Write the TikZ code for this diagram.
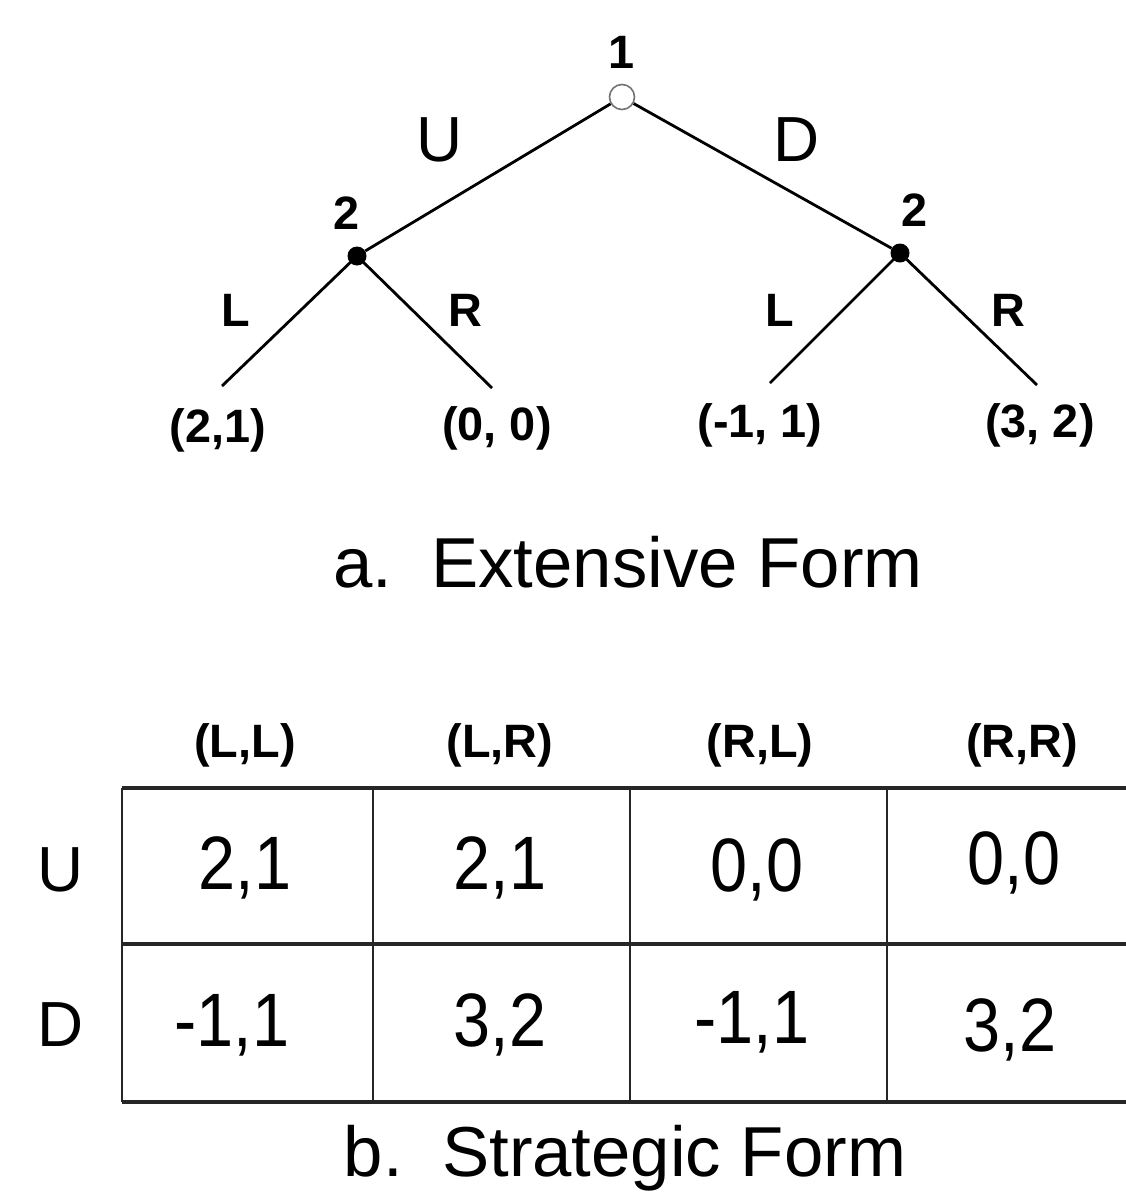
\documentclass[tikz,border=0pt]{standalone}
\usepackage{fontspec}
\setmainfont{Liberation Sans}
\begin{document}
\begin{tikzpicture}[x=1bp,y=-1bp,
  lbl/.style={font=\fontsize{47}{50}\selectfont\bfseries, inner sep=0pt},
  big/.style={font=\fontsize{64}{68}\selectfont, inner sep=0pt},
  cellv/.style={font=\fontsize{76}{80}\selectfont, inner sep=0pt, xscale=0.88},
  title/.style={font=\fontsize{71}{74}\selectfont, inner sep=0pt},
  branch/.style={line width=2.8bp},
  opennode/.style={circle, draw=black!55, fill=white, line width=1.6bp, minimum size=25bp, inner sep=0pt},
  dotnode/.style={circle, fill=black, minimum size=19bp, inner sep=0pt},
  hline/.style={line width=3.5bp, draw=black!85},
  vline/.style={line width=2.4bp, draw=black!85}]
\useasboundingbox (0,0) rectangle (1126,1196);
\fill[white] (0,0) rectangle (1126,1196);

% tree
\node[opennode] (root) at (622,97) {};
\node[dotnode] (dl) at (357,256) {};
\node[dotnode] (dr) at (900,253) {};
\coordinate (ll) at (222,386);
\coordinate (lr) at (492,388);
\coordinate (rl) at (770,383);
\coordinate (rr) at (1037,385);
\draw[branch] (root) -- (dl);
\draw[branch] (root) -- (dr);
\draw[branch] (dl.center) -- (ll);
\draw[branch] (dl.center) -- (lr);
\draw[branch] (dr.center) -- (rl);
\draw[branch] (dr.center) -- (rr);

\node[lbl] (p1) at (622,52) {1};
\node[lbl] (p2l) at (347,213) {2};
\node[lbl] (p2r) at (915,210) {2};
\node[big] (bU) at (440,140) {U};
\node[big] (bD) at (797,140) {D};
\node[lbl] (bLl) at (236,310) {L};
\node[lbl] (bRl) at (465,310) {R};
\node[lbl] (bLr) at (780,310) {L};
\node[lbl] (bRr) at (1008,310) {R};
\node[lbl] (o1) at (218,430) {(2,1)};
\node[lbl] (o2) at (497,428) {(0, 0)};
\node[lbl] (o3) at (760,425) {(-1, 1)};
\node[lbl] (o4) at (1040,425) {(3, 2)};
\node[title] (ta) at (628,562) {a.\ \ Extensive Form};

% table
\node[lbl] (c1) at (245,745) {(L,L)};
\node[lbl] (c2) at (500,745) {(L,R)};
\node[lbl] (c3) at (760,745) {(R,L)};
\node[lbl] (c4) at (1022,745) {(R,R)};
\node[big] (rU) at (61,870) {U};
\node[big] (rD) at (61,1025) {D};
\draw[hline] (122,788) -- (1126,788);
\draw[hline] (122,944) -- (1126,944);
\draw[hline] (122,1102) -- (1126,1102);
\draw[vline] (122,788) -- (122,1102);
\draw[vline] (373,788) -- (373,1102);
\draw[vline] (630,788) -- (630,1102);
\draw[vline] (887,788) -- (887,1102);
\node[cellv] (a11) at (245,868) {2,1};
\node[cellv] (a12) at (500,868) {2,1};
\node[cellv] (a13) at (757,870) {0,0};
\node[cellv] (a14) at (1014,863) {0,0};
\node[cellv] (a21) at (232,1025) {-1,1};
\node[cellv] (a22) at (500,1025) {3,2};
\node[cellv] (a23) at (752,1022) {-1,1};
\node[cellv] (a24) at (1010,1030) {3,2};
\node[title] (tb) at (625,1158) {b.\ \ Strategic Form};
\end{tikzpicture}
\end{document}
